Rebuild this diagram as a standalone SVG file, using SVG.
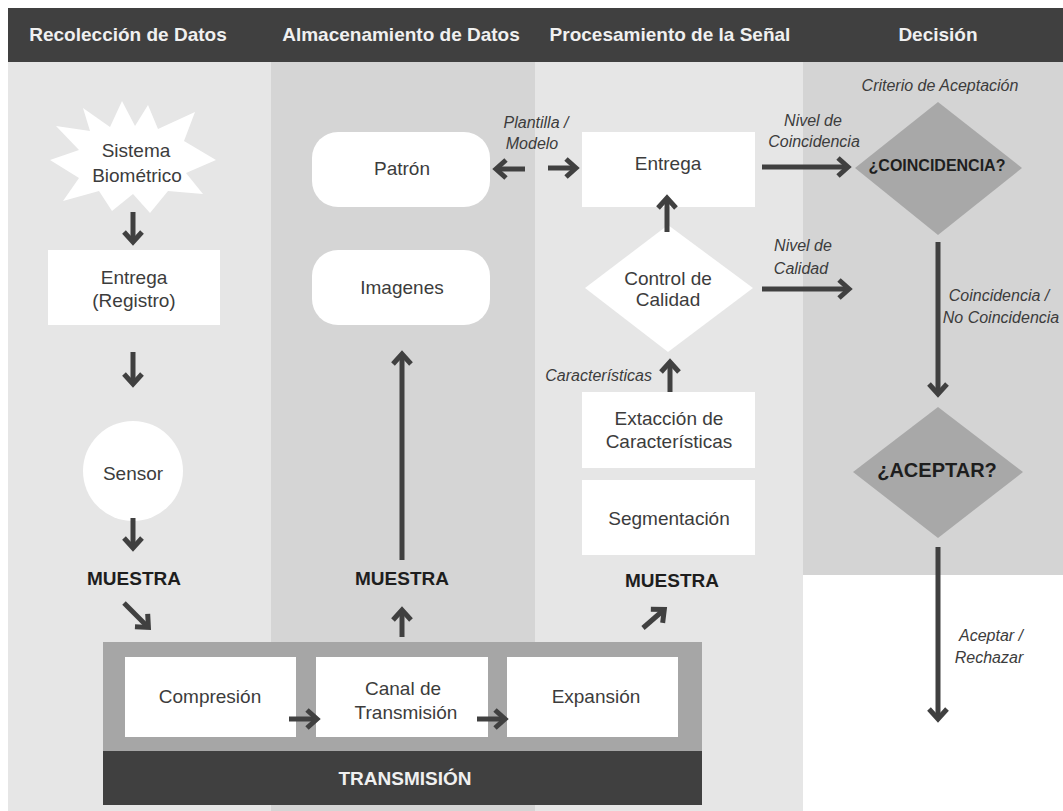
<svg xmlns="http://www.w3.org/2000/svg" width="1063" height="811" viewBox="0 0 1063 811">
<defs>
<style>
.hdr{font-family:"Liberation Sans",Arial,sans-serif;font-size:19px;font-weight:bold;fill:#f0f0f0;text-anchor:middle}
.t{font-family:"Liberation Sans",Arial,sans-serif;font-size:19px;fill:#3c3c3c;text-anchor:middle}
.b{font-family:"Liberation Sans",Arial,sans-serif;font-size:19px;font-weight:bold;fill:#1e1e1e;text-anchor:middle}
.bw{font-family:"Liberation Sans",Arial,sans-serif;font-size:19px;font-weight:bold;fill:#f0f0f0;text-anchor:middle}
.i{font-family:"Liberation Sans",Arial,sans-serif;font-size:16px;font-style:italic;fill:#3c3c3c;text-anchor:middle}
.box{fill:#ffffff}
.dia{fill:#a8a8a8}
.arr{stroke:#404040;stroke-width:5;fill:none;marker-end:url(#chev)}
</style>
<marker id="chev" viewBox="-14 -12 19 24" refX="0" refY="0" markerWidth="19" markerHeight="24" markerUnits="userSpaceOnUse" orient="auto" style="overflow:visible">
<path d="M-10,-9 L0,0 L-10,9" fill="none" stroke="#404040" stroke-width="5" stroke-linejoin="miter"/>
</marker>
</defs>
<rect x="0" y="0" width="1063" height="811" fill="#ffffff"/>
<g id="columns">
<rect x="8" y="62" width="263" height="749" fill="#e6e6e6"/>
<rect x="271" y="62" width="264" height="749" fill="#d5d5d5"/>
<rect x="535" y="62" width="268" height="749" fill="#e6e6e6"/>
<rect x="803" y="62" width="260" height="513" fill="#d4d4d4"/>
</g>
<g id="header">
<rect x="8" y="8" width="1055" height="54" fill="#404040"/>
<text class="hdr" x="128" y="41">Recolección de Datos</text>
<text class="hdr" x="401" y="41">Almacenamiento de Datos</text>
<text class="hdr" x="670" y="41">Procesamiento de la Señal</text>
<text class="hdr" x="938" y="41">Decisión</text>
</g>
<g id="sistema">
<polygon class="box" points="148,105 158,129 195,112 184,141 216,160 186,173 203,194 168,191 150,213 133,194 112,211 99,191 63,201 79,178 50,160 79,150 56,126 90,131 83,108 110,127 122,101 135,126"/>
<text class="t" x="136" y="157">Sistema</text>
<text class="t" x="137" y="182">Biométrico</text>
</g>
<g id="entrega-registro">
<rect class="box" x="48" y="250" width="172" height="75"/>
<text class="t" x="134" y="284">Entrega</text>
<text class="t" x="134" y="307">(Registro)</text>
</g>
<g id="sensor">
<circle class="box" cx="133" cy="471" r="50"/>
<text class="t" x="133" y="480">Sensor</text>
</g>
<g id="muestra1"><text class="b" x="134" y="585">MUESTRA</text></g>
<g id="transmision">
<rect x="103" y="642" width="599" height="109" fill="#a6a6a6"/>
<rect x="103" y="751" width="599" height="54" fill="#404040"/>
<text class="bw" x="405" y="785">TRANSMISIÓN</text>
</g>
<g id="compresion">
<rect class="box" x="125" y="657" width="171" height="80"/>
<text class="t" x="210" y="703">Compresión</text>
</g>
<g id="canal">
<rect class="box" x="316" y="657" width="172" height="80"/>
<text class="t" x="403" y="695">Canal de</text>
<text class="t" x="406" y="719">Transmisión</text>
</g>
<g id="expansion">
<rect class="box" x="507" y="657" width="171" height="80"/>
<text class="t" x="596" y="703">Expansión</text>
</g>
<g id="muestra2"><text class="b" x="402" y="585">MUESTRA</text></g>
<g id="patron">
<rect class="box" x="312" y="132" width="178" height="75" rx="26"/>
<text class="t" x="402" y="175">Patrón</text>
</g>
<g id="imagenes">
<rect class="box" x="312" y="250" width="178" height="75" rx="26"/>
<text class="t" x="402" y="294">Imagenes</text>
</g>
<g id="entrega">
<rect class="box" x="582" y="132" width="173" height="75"/>
<text class="t" x="668" y="170">Entrega</text>
</g>
<g id="control">
<polygon class="box" points="668,225 753,288 668,352 585,288"/>
<text class="t" x="668" y="285">Control de</text>
<text class="t" x="668" y="306">Calidad</text>
</g>
<g id="extraccion">
<rect class="box" x="582" y="392" width="173" height="76"/>
<text class="t" x="669" y="425">Extacción de</text>
<text class="t" x="669" y="448">Características</text>
</g>
<g id="segmentacion">
<rect class="box" x="582" y="480" width="173" height="75"/>
<text class="t" x="669" y="525">Segmentación</text>
</g>
<g id="muestra3"><text class="b" x="672" y="587">MUESTRA</text></g>
<g id="coincidencia">
<polygon class="dia" points="938,102 1022,168 938,235 855,168"/>
<text class="b" x="937" y="171" style="font-size:16px">¿COINCIDENCIA?</text>
</g>
<g id="aceptar">
<polygon class="dia" points="938,407 1023,472 938,538 853,472"/>
<text class="b" x="937" y="477" style="font-size:20px">¿ACEPTAR?</text>
</g>
<g id="connectors">
<line class="arr" x1="133" y1="212" x2="133" y2="242"/>
<line class="arr" x1="133" y1="352" x2="133" y2="384"/>
<line class="arr" x1="133" y1="518" x2="133" y2="548"/>
<line class="arr" x1="124" y1="603" x2="148.4" y2="627.4"/>
<line class="arr" x1="289" y1="719" x2="317" y2="719"/>
<line class="arr" x1="477" y1="719" x2="505" y2="719"/>
<line class="arr" x1="402" y1="637" x2="402" y2="610"/>
<line class="arr" x1="402" y1="560" x2="402" y2="354"/>
<line class="arr" x1="643" y1="628" x2="664.3" y2="609.5"/>
<line class="arr" x1="670" y1="392" x2="670" y2="362"/>
<line class="arr" x1="667" y1="232" x2="667" y2="198"/>
<line class="arr" x1="548" y1="168" x2="576" y2="168"/>
<line class="arr" x1="525" y1="169" x2="496" y2="169"/>
<line class="arr" x1="762" y1="167" x2="848" y2="167"/>
<line class="arr" x1="762" y1="289" x2="849" y2="289"/>
<line class="arr" x1="938" y1="242" x2="938" y2="394"/>
<line class="arr" x1="938" y1="547" x2="938" y2="719"/>
<text class="i" x="536" y="128">Plantilla /</text>
<text class="i" x="532" y="149">Modelo</text>
<text class="i" x="813" y="126">Nivel de</text>
<text class="i" x="814" y="147">Coincidencia</text>
<text class="i" x="803" y="251">Nivel de</text>
<text class="i" x="801" y="274">Calidad</text>
<text class="i" x="652" y="381" style="text-anchor:end">Características</text>
<text class="i" x="940" y="91">Criterio de Aceptación</text>
<text class="i" x="999" y="301">Coincidencia /</text>
<text class="i" x="1001" y="323">No Coincidencia</text>
<text class="i" x="991" y="641">Aceptar /</text>
<text class="i" x="989" y="663">Rechazar</text>
</g>
</svg>
